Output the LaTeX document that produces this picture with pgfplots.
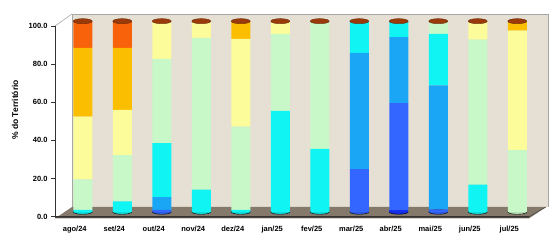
\documentclass[border=0pt]{standalone}
\usepackage{pgfplots}
\pgfplotsset{compat=1.18}
\usepackage{pgfplotstable}
\usepackage{fontspec}
\setmainfont{Liberation Sans}[BoldFont={Liberation Sans Bold}]
\definecolor{cA}{HTML}{1530F0}
\definecolor{cB}{HTML}{3366FF}
\definecolor{cC}{HTML}{1AA6F5}
\definecolor{cD}{HTML}{10F4F4}
\definecolor{cE}{HTML}{C8F8C8}
\definecolor{cF}{HTML}{FCFC9A}
\definecolor{cG}{HTML}{FCBE00}
\definecolor{cH}{HTML}{F8620A}
\definecolor{wall}{HTML}{E6E0D4}
\definecolor{floorc}{HTML}{84796B}
\definecolor{capc}{HTML}{9A3A0A}
% month index, then eight classes from bottom to top
\pgfplotstableread{
x  a   b    c    d    e    f    g    h
0  0   0    0    1    16   33   36   14
1  0   0    0    5.5  24.3 23.7 32.5 14
2  0   1    6.8  28.2 44.2 19.8 0    0
3  0   0    0    11.7 79.6 8.7  0    0
4  0   0    0    1    43.7 46   9.3  0
5  0   0    0    53   40.3 6.7  0    0
6  0   0    0    33   67   0    0    0
7  0   22.4 61   16.6 0    0    0    0
8  1   56   34.6 8.4  0    0    0    0
9  0   1.3  65   27.1 6.6  0    0    0
10 0   0    0    14.3 76.1 9.6  0    0
11 0   0    0    0    32.4 62.6 5    0
}\datatable
\pgfplotsset{
  geo/.style={scale only axis, width=474pt, height=190.7pt,
    at={(55pt,24.3pt)}, anchor=south west,
    xmin=-0.5, xmax=11.5, ymin=0, ymax=100},
  cyl/.style={fill=#1, draw=none},
}
\begin{document}
\begin{tikzpicture}[x=1pt,y=1pt]
\path[use as bounding box] (0,0) rectangle (560,241);
% back wall
\fill[wall] (72,34) rectangle (548,227);
\draw[gray!70, line width=0.6pt] (72,34) -- (72,227) -- (548,227) -- (548,34);
\draw[gray!70, line width=0.6pt] (55,215) -- (72,227);
% floor
\fill[floorc] (55,22.5) -- (529,22.5) -- (546,34) -- (72,34) -- cycle;
\fill[floorc!60!black] (55,22.5) -- (529,22.5) -- (529,24.3) -- (55,24.3) -- cycle;
\draw[gray!50!black, line width=0.5pt] (55,24.3) -- (529,24.3) -- (546,34);
% bottoms of the cylinders
\begin{axis}[geo, hide axis, clip=false]
\addplot[only marks, mark=*, mark size=9.5pt, mark options={yscale=0.25, draw=none, fill=cD!90!black}, xshift=8pt, yshift=4.8pt]
  coordinates {(0,0) (1,0) (3,0) (4,0) (5,0) (6,0) (10,0)};
\addplot[only marks, mark=*, mark size=9.5pt, mark options={yscale=0.25, draw=none, fill=cB!90!black}, xshift=8pt, yshift=4.8pt]
  coordinates {(2,0) (7,0) (9,0)};
\addplot[only marks, mark=*, mark size=9.5pt, mark options={yscale=0.25, draw=none, fill=cA!90!black}, xshift=8pt, yshift=4.8pt]
  coordinates {(8,0)};
\addplot[only marks, mark=*, mark size=9.5pt, mark options={yscale=0.25, draw=none, fill=cE!90!black}, xshift=8pt, yshift=4.8pt]
  coordinates {(11,0)};
\end{axis}
% main axis with stacked cylinders
\begin{axis}[geo,
  ybar stacked, bar width=19pt, clip=false,
  axis x line*=bottom, axis y line*=left,
  axis line style={gray!40!black, line width=0.6pt},
  ytick={0,20,...,100},
  xtick={0,...,11},
  xticklabels={ago/24,set/24,out/24,nov/24,dez/24,jan/25,fev/25,mar/25,abr/25,mai/25,jun/25,jul/25},
  minor xtick={-0.5,0.5,...,11.5},
  tick align=outside,
  major tick length=4pt, minor tick length=5pt,
  xtick style={draw=none},
  minor tick style={gray!40!black, line width=0.5pt},
  ytick style={gray!40!black, line width=0.6pt},
  yticklabel style={/pgf/number format/.cd, fixed, fixed zerofill, precision=1, assume math mode=true},
  ticklabel style={font=\bfseries\fontsize{7.5}{9}\selectfont, text=black},
  xticklabel style={yshift=-1.5pt},
  ylabel={\% do Território},
  every axis y label/.style={at={(axis description cs:-0.0845,0.56)}, rotate=90, anchor=center,
    font=\bfseries\fontsize{8.5}{10}\selectfont, text=black},
]
\addplot[cyl=cA, xshift=8pt, yshift=4.8pt] table[x=x, y=a] {\datatable};
\addplot[cyl=cB, xshift=8pt, yshift=4.8pt] table[x=x, y=b] {\datatable};
\addplot[cyl=cC, xshift=8pt, yshift=4.8pt] table[x=x, y=c] {\datatable};
\addplot[cyl=cD, xshift=8pt, yshift=4.8pt] table[x=x, y=d] {\datatable};
\addplot[cyl=cE, xshift=8pt, yshift=4.8pt] table[x=x, y=e] {\datatable};
\addplot[cyl=cF, xshift=8pt, yshift=4.8pt] table[x=x, y=f] {\datatable};
\addplot[cyl=cG, xshift=8pt, yshift=4.8pt] table[x=x, y=g] {\datatable};
\addplot[cyl=cH, xshift=8pt, yshift=4.8pt] table[x=x, y=h] {\datatable};
\end{axis}
% tops of the cylinders
\begin{axis}[geo, hide axis, clip=false]
\addplot[only marks, mark=*, mark size=9.5pt, mark options={yscale=0.27, draw=capc!60!black, line width=0.3pt, fill=capc}, xshift=8pt, yshift=4.8pt]
  coordinates {(0,100) (1,100) (2,100) (3,100) (4,100) (5,100) (6,100) (7,100) (8,100) (9,100) (10,100) (11,100)};
\end{axis}
\end{tikzpicture}
\end{document}
